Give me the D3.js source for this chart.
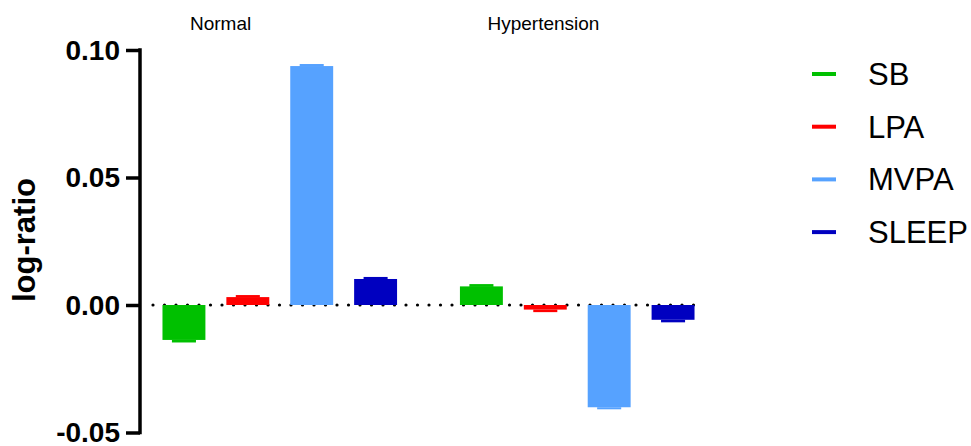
<!DOCTYPE html>
<html>
<head>
<meta charset="utf-8">
<script src="https://cdn.jsdelivr.net/npm/d3@7"></script>
<style>
  html, body { margin: 0; padding: 0; background: #fff; }
  svg { display: block; font-family: "Liberation Sans", Arial, sans-serif; }
</style>
</head>
<body>
<svg id="chart" width="971" height="446"></svg>
<script>
// ---- data ----
const groups = ["Normal", "Hypertension"];
const series = ["SB", "LPA", "MVPA", "SLEEP"];
const colors = ["#00C000", "#FF0000", "#56A2FF", "#0000C0"];
const normalValues = [-0.0137, 0.0031, 0.0937, 0.0102];
const normalErrors = [-0.0145, 0.0039, 0.0945, 0.0110];
const hyperValues = [0.0073, -0.0018, -0.0401, -0.0058];
const hyperErrors = [0.0082, -0.0026, -0.0407, -0.0066];
const yTicks = [-0.05, 0.00, 0.05, 0.10];
const yTickLabels = ["-0.05", "0.00", "0.05", "0.10"];
const yLabel = "log-ratio";

const values = { "Normal": normalValues, "Hypertension": hyperValues };
const errors = { "Normal": normalErrors, "Hypertension": hyperErrors };

const svg = d3.select("#chart");

const y = d3.scaleLinear().domain([-0.05, 0.10]).range([432.5, 50]);
const x0 = d3.scaleBand().domain(groups).range([152, 705]).paddingInner(42 / 298).paddingOuter(0);
const x1 = d3.scaleBand().domain(series).range([0, x0.bandwidth()]).paddingInner(0.328).paddingOuter(0.164);
const color = d3.scaleOrdinal().domain(series).range(colors);

// zero dotted line
svg.append("line")
  .attr("x1", x0.range()[0] + 1).attr("x2", x0.range()[1])
  .attr("y1", y(0)).attr("y2", y(0))
  .attr("stroke", "#000").attr("stroke-width", 3.2)
  .attr("stroke-linecap", "round")
  .attr("stroke-dasharray", "0 11.5");

// bars
const rows = [];
groups.forEach(g => series.forEach((s, i) => rows.push({ g, s, v: values[g][i], e: errors[g][i] })));

const gBars = svg.append("g");
gBars.selectAll("rect.bar").data(rows).join("rect")
  .attr("class", "bar")
  .attr("x", d => x0(d.g) + x1(d.s))
  .attr("width", x1.bandwidth())
  .attr("y", d => y(Math.max(0, d.v)))
  .attr("height", d => Math.abs(y(d.v) - y(0)))
  .attr("fill", d => color(d.s));

const capW = x1.bandwidth() * 0.56;
gBars.selectAll("rect.cap").data(rows).join("rect")
  .attr("class", "cap")
  .attr("x", d => x0(d.g) + x1(d.s) + (x1.bandwidth() - capW) / 2)
  .attr("width", capW)
  .attr("y", d => Math.min(y(d.v), y(d.e)))
  .attr("height", d => Math.abs(y(d.e) - y(d.v)) + 0.5)
  .attr("fill", d => color(d.s));

// y axis
const axisX = 140;
const yAxis = d3.axisLeft(y).tickValues(yTicks)
  .tickFormat((d, i) => yTickLabels[i])
  .tickSizeOuter(0).tickSizeInner(14).tickPadding(6);
const ga = svg.append("g").attr("transform", `translate(${axisX},0)`).call(yAxis);
ga.select(".domain").attr("stroke", "#000").attr("stroke-width", 3.5)
  .attr("d", `M0,${y(0.10) - 1.75}V${y(-0.05) + 1.75}`);
ga.selectAll(".tick line").attr("stroke", "#000").attr("stroke-width", 3.5);
ga.selectAll(".tick text")
  .attr("fill", "#000")
  .style("font-family", "'Liberation Sans', Arial, sans-serif")
  .style("font-size", "28px").style("font-weight", "bold")
  .attr("dy", "0.33em");

// y label
svg.append("text")
  .attr("transform", `translate(35,240) rotate(-90)`)
  .attr("text-anchor", "middle")
  .style("font-size", "31px").style("font-weight", "bold")
  .text(yLabel);

// group labels
svg.selectAll("text.glabel").data(groups).join("text")
  .attr("class", "glabel")
  .attr("x", d => x0(d) + 38)
  .attr("y", 30)
  .style("font-size", "19px")
  .text(d => d);

// legend
const lg = svg.append("g");
series.forEach((s, i) => {
  const yy = 74 + i * 52.7;
  lg.append("line").attr("x1", 812).attr("x2", 836).attr("y1", yy).attr("y2", yy)
    .attr("stroke", color(s)).attr("stroke-width", 4);
  lg.append("text").attr("x", 868).attr("y", yy + 11)
    .style("font-size", "31px").text(s);
});
</script>
</body>
</html>
